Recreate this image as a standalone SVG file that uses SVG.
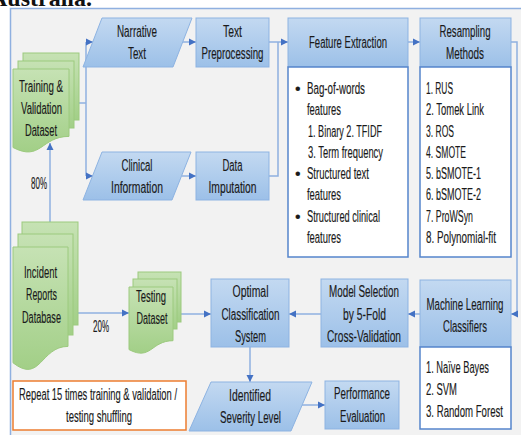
<svg xmlns="http://www.w3.org/2000/svg" width="521" height="435" viewBox="0 0 521 435">
<defs>
<linearGradient id="gb" x1="0" y1="0" x2="0" y2="1"><stop offset="0" stop-color="#c3d9f1"/><stop offset="1" stop-color="#9cc0e8"/></linearGradient>
<linearGradient id="gg" x1="0" y1="0" x2="0" y2="1"><stop offset="0" stop-color="#c6e2b4"/><stop offset="1" stop-color="#a2cf87"/></linearGradient>
<marker id="ah" viewBox="0 0 10 10" refX="10" refY="5" markerUnits="userSpaceOnUse" markerWidth="7" markerHeight="8" orient="auto"><path d="M0,0 L10,5 L0,10 z" fill="#4472c4"/></marker>
<style>
.box{fill:url(#gb);stroke:#8db3e2;stroke-width:1}
.body{fill:#fff;stroke:#5585cc;stroke-width:1.5}
.doc{fill:url(#gg);stroke:#9cca7e;stroke-width:1}
.t{font-family:"Liberation Sans",Arial,sans-serif;font-size:16px;fill:#1a1a1a;stroke:#1a1a1a;stroke-width:0.15;text-anchor:middle}
.l{text-anchor:start}
.c{fill:none;stroke:#8fb0e0;stroke-width:1.5}
.a{marker-end:url(#ah)}
</style>
</defs>
<text x="-10" y="6" font-family="'Liberation Serif',serif" font-size="24" font-weight="bold" fill="#111">Australia.</text>
<rect x="10.5" y="8.5" width="530" height="440" fill="#f2f2f2" stroke="#8fb0e0" stroke-width="1.5"/>

<g id="connectors">
<polyline class="c" points="79,103 86,103"/>
<polyline class="c" points="86,42 86,176"/>
<polyline class="c a" points="86,42 93,42"/>
<polyline class="c a" points="86,176 93,176"/>
<polyline class="c a" points="183,42 196,42"/>
<polyline class="c a" points="182,176 196,176"/>
<polyline class="c a" points="269,42 288,42"/>
<polyline class="c" points="269,176 278,176 278,42"/>
<polyline class="c a" points="408,42 420,42"/>
<polyline class="c a" points="511,42 517,42 517,314 511,314"/>
<polyline class="c a" points="420,314 408,314"/>
<polyline class="c a" points="321,314 289,314"/>
<polyline class="c a" points="250,347 250,382"/>
<polyline class="c a" points="302,405 325,405"/>
<polyline class="c a" points="50,222 50,143"/>
<polyline class="c a" points="78,313 129,313"/>
<polyline class="c a" points="181,314 211,314"/>
<text class="t" x="39" y="189" textLength="16" lengthAdjust="spacingAndGlyphs">80%</text>
<text class="t" x="101" y="332" textLength="16" lengthAdjust="spacingAndGlyphs">20%</text>
</g>

<g id="training">
<rect class="doc" x="23" y="53" width="56" height="67"/>
<rect class="doc" x="18" y="61" width="56" height="67"/>
<path class="doc" d="M13,69 H69 V136.4 C41,136.4 41,162 13,147.5 Z"/>
<text class="t" x="41" y="92" textLength="44" lengthAdjust="spacingAndGlyphs">Training &amp;</text>
<text class="t" x="41.5" y="114" textLength="41" lengthAdjust="spacingAndGlyphs">Validation</text>
<text class="t" x="41" y="136" textLength="32" lengthAdjust="spacingAndGlyphs">Dataset</text>
</g>

<g id="narrative">
<polygon class="box" points="102,18 192,18 173,67 83,67"/>
<text class="t" x="137" y="37" textLength="40" lengthAdjust="spacingAndGlyphs">Narrative</text>
<text class="t" x="137" y="59" textLength="18" lengthAdjust="spacingAndGlyphs">Text</text>
</g>

<g id="textpre">
<rect class="box" x="196" y="18" width="73" height="49"/>
<text class="t" x="232.5" y="37" textLength="19" lengthAdjust="spacingAndGlyphs">Text</text>
<text class="t" x="232.5" y="59" textLength="62" lengthAdjust="spacingAndGlyphs">Preprocessing</text>
</g>

<g id="clinical">
<polygon class="box" points="102,152 191,152 172,200 83,200"/>
<text class="t" x="137" y="171" textLength="31" lengthAdjust="spacingAndGlyphs">Clinical</text>
<text class="t" x="137" y="193" textLength="52" lengthAdjust="spacingAndGlyphs">Information</text>
</g>

<g id="dataimp">
<rect class="box" x="196" y="152" width="73" height="48"/>
<text class="t" x="232.5" y="171" textLength="20" lengthAdjust="spacingAndGlyphs">Data</text>
<text class="t" x="232.5" y="193" textLength="48" lengthAdjust="spacingAndGlyphs">Imputation</text>
</g>

<g id="feature">
<rect class="box" x="288" y="18" width="120" height="49"/>
<rect class="body" x="288" y="67" width="120" height="190"/>
<text class="t" x="348" y="48" textLength="78" lengthAdjust="spacingAndGlyphs">Feature Extraction</text>
<text class="t l" x="295" y="94">•</text>
<text class="t l" x="307" y="94" textLength="58" lengthAdjust="spacingAndGlyphs">Bag-of-words</text>
<text class="t l" x="307" y="115" textLength="34" lengthAdjust="spacingAndGlyphs">features</text>
<text class="t l" x="308" y="137" textLength="74" lengthAdjust="spacingAndGlyphs">1. Binary  2. TFIDF</text>
<text class="t l" x="308" y="158" textLength="75" lengthAdjust="spacingAndGlyphs">3. Term frequency</text>
<text class="t l" x="295" y="179">•</text>
<text class="t l" x="307" y="179" textLength="62" lengthAdjust="spacingAndGlyphs">Structured text</text>
<text class="t l" x="307" y="200" textLength="34" lengthAdjust="spacingAndGlyphs">features</text>
<text class="t l" x="295" y="222">•</text>
<text class="t l" x="307" y="222" textLength="73" lengthAdjust="spacingAndGlyphs">Structured clinical</text>
<text class="t l" x="307" y="243" textLength="34" lengthAdjust="spacingAndGlyphs">features</text>
</g>

<g id="resampling">
<rect class="box" x="420" y="18" width="91" height="49"/>
<rect class="body" x="420" y="67" width="91" height="190"/>
<text class="t" x="465" y="37" textLength="51" lengthAdjust="spacingAndGlyphs">Resampling</text>
<text class="t" x="465" y="59" textLength="38" lengthAdjust="spacingAndGlyphs">Methods</text>
<text class="t l" x="426" y="94" textLength="27" lengthAdjust="spacingAndGlyphs">1. RUS</text>
<text class="t l" x="426" y="115" textLength="58" lengthAdjust="spacingAndGlyphs">2. Tomek Link</text>
<text class="t l" x="426" y="137" textLength="28" lengthAdjust="spacingAndGlyphs">3. ROS</text>
<text class="t l" x="426" y="158" textLength="40" lengthAdjust="spacingAndGlyphs">4. SMOTE</text>
<text class="t l" x="426" y="179" textLength="55" lengthAdjust="spacingAndGlyphs">5. bSMOTE-1</text>
<text class="t l" x="426" y="200" textLength="55" lengthAdjust="spacingAndGlyphs">6. bSMOTE-2</text>
<text class="t l" x="426" y="222" textLength="47" lengthAdjust="spacingAndGlyphs">7. ProWSyn</text>
<text class="t l" x="426" y="243" textLength="70" lengthAdjust="spacingAndGlyphs">8. Polynomial-fit</text>
</g>

<g id="ml">
<rect class="box" x="420" y="280" width="91" height="67"/>
<rect class="body" x="420" y="347" width="91" height="82"/>
<text class="t" x="465" y="310" textLength="77" lengthAdjust="spacingAndGlyphs">Machine Learning</text>
<text class="t" x="465" y="332" textLength="44" lengthAdjust="spacingAndGlyphs">Classifiers</text>
<text class="t l" x="426" y="373" textLength="63" lengthAdjust="spacingAndGlyphs">1. Naïve Bayes</text>
<text class="t l" x="426" y="395" textLength="31" lengthAdjust="spacingAndGlyphs">2. SVM</text>
<text class="t l" x="426" y="417" textLength="77" lengthAdjust="spacingAndGlyphs">3. Random Forest</text>
</g>

<g id="model">
<rect class="box" x="321" y="279" width="87" height="68"/>
<text class="t" x="364" y="297" textLength="70" lengthAdjust="spacingAndGlyphs">Model Selection</text>
<text class="t" x="364.5" y="320" textLength="43" lengthAdjust="spacingAndGlyphs">by 5-Fold</text>
<text class="t" x="364" y="342" textLength="74" lengthAdjust="spacingAndGlyphs">Cross-Validation</text>
</g>

<g id="optimal">
<rect class="box" x="211" y="279" width="78" height="68"/>
<text class="t" x="250.5" y="297" textLength="36" lengthAdjust="spacingAndGlyphs">Optimal</text>
<text class="t" x="250.5" y="320" textLength="58" lengthAdjust="spacingAndGlyphs">Classification</text>
<text class="t" x="250.5" y="342" textLength="31" lengthAdjust="spacingAndGlyphs">System</text>
</g>

<g id="incident">
<rect class="doc" x="22" y="222" width="56" height="103"/>
<rect class="doc" x="18" y="234" width="55" height="101"/>
<path class="doc" d="M13,247 H68 V346.4 C40.5,346.4 40.5,384.3 13,362.8 Z"/>
<text class="t" x="40.5" y="278" textLength="33" lengthAdjust="spacingAndGlyphs">Incident</text>
<text class="t" x="41.5" y="300" textLength="31" lengthAdjust="spacingAndGlyphs">Reports</text>
<text class="t" x="41.5" y="323" textLength="39" lengthAdjust="spacingAndGlyphs">Database</text>
</g>

<g id="testing">
<rect class="doc" x="138" y="272" width="43" height="50"/>
<rect class="doc" x="133" y="279" width="44" height="50"/>
<path class="doc" d="M129,287 H173 V340.7 C151,340.7 151,361.2 129,349.6 Z"/>
<text class="t" x="151" y="302" textLength="30" lengthAdjust="spacingAndGlyphs">Testing</text>
<text class="t" x="152" y="324" textLength="31" lengthAdjust="spacingAndGlyphs">Dataset</text>
</g>

<g id="identified">
<polygon class="box" points="211,382 312,382 291,431 189,431"/>
<text class="t" x="250" y="401" textLength="42" lengthAdjust="spacingAndGlyphs">Identified</text>
<text class="t" x="250.5" y="423" textLength="61" lengthAdjust="spacingAndGlyphs">Severity Level</text>
</g>

<g id="performance">
<rect class="box" x="325" y="381" width="74" height="48"/>
<text class="t" x="362" y="399" textLength="56" lengthAdjust="spacingAndGlyphs">Performance</text>
<text class="t" x="362.5" y="422" textLength="45" lengthAdjust="spacingAndGlyphs">Evaluation</text>
</g>

<g id="repeat">
<rect x="13" y="381" width="173" height="49" fill="#fff" stroke="#ed7d31" stroke-width="1.5"/>
<text class="t" x="98" y="400" textLength="158" lengthAdjust="spacingAndGlyphs">Repeat 15 times training &amp; validation /</text>
<text class="t" x="99" y="422" textLength="66" lengthAdjust="spacingAndGlyphs">testing shuffling</text>
</g>
</svg>
